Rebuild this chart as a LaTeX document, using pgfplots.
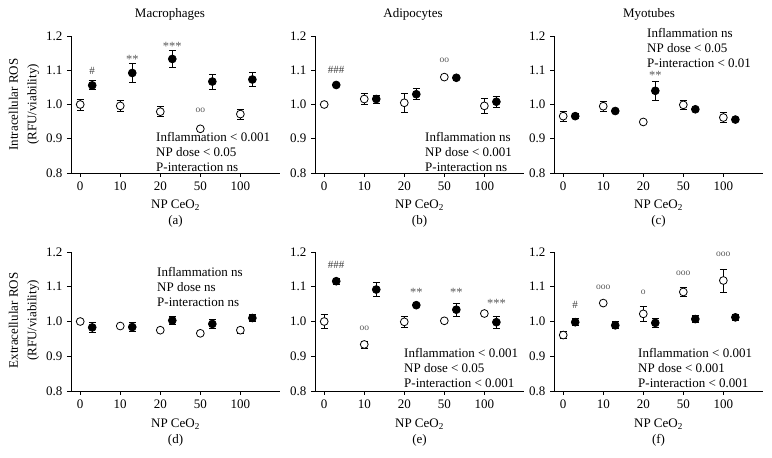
\documentclass[border=0pt]{standalone}
\usepackage{fontspec}
\setmainfont{Liberation Serif}
\usepackage{pgfplots}
\pgfplotsset{compat=1.18}
\definecolor{anno}{gray}{0.35}
\newcommand{\stat}[5]{%
  \node[anchor=base west,inner sep=0pt] at (#1pt,#2pt) {#3};
  \node[anchor=base west,inner sep=0pt] at (#1pt,#2pt-15pt) {#4};
  \node[anchor=base west,inner sep=0pt] at (#1pt,#2pt-30pt) {#5};}
\tikzset{
 ast/.style={anchor=base, yshift=-6.5pt, inner sep=0pt, text=anno, font=\fontsize{12.5}{12}\selectfont},
 hsh/.style={anchor=base, yshift=-3.6pt, inner sep=0pt, text=anno!70!black, font=\fontsize{11}{11}\selectfont},
 ooo/.style={anchor=base, yshift=-2.2pt, inner sep=0pt, text=anno, font=\fontsize{9.5}{9}\selectfont},
}
\begin{document}
\fontsize{13}{15}\selectfont
\begin{tikzpicture}
\useasboundingbox (0pt,0pt) rectangle (772pt,458pt);
\pgfplotsset{
 panel/.style={
  scale only axis, width=209pt, height=#1,
  xmin=-0.23, xmax=4.99, ymin=0.8, ymax=1.2,
  axis x line=bottom, axis y line=left,
  axis line style={-, black, line width=0.9pt},
  xtick={0,1,2,3,4}, xticklabels={0,10,20,50,100},
  ytick={0.8,0.9,1.0,1.1,1.2}, yticklabels={0.8,0.9,1.0,1.1,1.2},
  tick align=outside, major tick length=4pt,
  tick style={black, line width=0.9pt},
  every tick label/.append style={font=\fontsize{13}{15}\selectfont},
  clip=false, anchor=south west,
 },
 opn/.style={only marks, mark=*, mark size=3.9pt,
  mark options={fill=white, draw=black, line width=0.8pt},
  error bars/.cd, y dir=both, y explicit,
  error bar style={black, line width=0.8pt},
  error mark options={rotate=90, mark size=3.5pt, black, line width=0.8pt}},
 fil/.style={only marks, mark=*, mark size=3.9pt,
  mark options={fill=black, draw=black, line width=0.8pt},
  error bars/.cd, y dir=both, y explicit,
  error bar style={black, line width=0.8pt},
  error mark options={rotate=90, mark size=3.5pt, black, line width=0.8pt}},
}
% ---------- (a) Macrophages intracellular
\begin{axis}[panel=137pt, at={(71pt,285pt)}]
\addplot+[opn] coordinates {(0,1.000)+-(0,0.016) (1,0.996)+-(0,0.015) (2,0.979)+-(0,0.015) (3,0.929)+-(0,0.004) (4,0.972)+-(0,0.015)};
\addplot+[fil] coordinates {(0.3,1.056)+-(0,0.013) (1.3,1.092)+-(0,0.028) (2.3,1.133)+-(0,0.025) (3.3,1.067)+-(0,0.022) (4.3,1.073)+-(0,0.020)};
\node[hsh] at (axis cs:0.3,1.097) {\#};
\node[ast] at (axis cs:1.3,1.140) {**};
\node[ast] at (axis cs:2.3,1.176) {***};
\node[ooo] at (axis cs:3,0.982) {oo};
\end{axis}
% ---------- (b) Adipocytes intracellular
\begin{axis}[panel=137pt, at={(315pt,285pt)}]
\addplot+[opn] coordinates {(0,1.000)+-(0,0.003) (1,1.016)+-(0,0.016) (2,1.005)+-(0,0.027) (3,1.080)+-(0,0.003) (4,0.996)+-(0,0.022)};
\addplot+[fil] coordinates {(0.3,1.057)+-(0,0.004) (1.3,1.016)+-(0,0.012) (2.3,1.030)+-(0,0.016) (3.3,1.078)+-(0,0.004) (4.3,1.008)+-(0,0.016)};
\node[hsh] at (axis cs:0.3,1.100) {\#\#\#};
\node[ooo] at (axis cs:3,1.129) {oo};
\end{axis}
% ---------- (c) Myotubes intracellular
\begin{axis}[panel=137pt, at={(554pt,285pt)}]
\addplot+[opn] coordinates {(0,0.966)+-(0,0.015) (1,0.995)+-(0,0.014) (2,0.949)+-(0,0.003) (3,0.999)+-(0,0.012) (4,0.962)+-(0,0.015)};
\addplot+[fil] coordinates {(0.3,0.966)+-(0,0.008) (1.3,0.981)+-(0,0.004) (2.3,1.040)+-(0,0.028) (3.3,0.986)+-(0,0.004) (4.3,0.956)+-(0,0.004)};
\node[ast] at (axis cs:2.3,1.093) {**};
\end{axis}
% ---------- (d) Macrophages extracellular
\begin{axis}[panel=139pt, at={(71pt,67pt)}]
\addplot+[opn] coordinates {(0,1.000)+-(0,0.003) (1,0.987)+-(0,0.003) (2,0.975)+-(0,0.003) (3,0.966)+-(0,0.003) (4,0.975)+-(0,0.008)};
\addplot+[fil] coordinates {(0.3,0.983)+-(0,0.015) (1.3,0.984)+-(0,0.012) (2.3,1.003)+-(0,0.012) (3.3,0.993)+-(0,0.012) (4.3,1.010)+-(0,0.010)};
\end{axis}
% ---------- (e) Adipocytes extracellular
\begin{axis}[panel=139pt, at={(315pt,67pt)}]
\addplot+[opn] coordinates {(0,1.000)+-(0,0.019) (1,0.934)+-(0,0.010) (2,0.999)+-(0,0.015) (3,1.002)+-(0,0.003) (4,1.023)+-(0,0.003)};
\addplot+[fil] coordinates {(0.3,1.116)+-(0,0.008) (1.3,1.092)+-(0,0.021) (2.3,1.047)+-(0,0.004) (3.3,1.034)+-(0,0.018) (4.3,0.998)+-(0,0.017)};
\node[hsh] at (axis cs:0.3,1.164) {\#\#\#};
\node[ooo] at (axis cs:1,0.979) {oo};
\node[ast] at (axis cs:2.3,1.092) {**};
\node[ast] at (axis cs:3.3,1.092) {**};
\node[ast] at (axis cs:4.3,1.060) {***};
\end{axis}
% ---------- (f) Myotubes extracellular
\begin{axis}[panel=139pt, at={(554pt,67pt)}]
\addplot+[opn] coordinates {(0,0.961)+-(0,0.010) (1,1.053)+-(0,0.003) (2,1.022)+-(0,0.022) (3,1.085)+-(0,0.012) (4,1.118)+-(0,0.033)};
\addplot+[fil] coordinates {(0.3,0.998)+-(0,0.010) (1.3,0.989)+-(0,0.010) (2.3,0.996)+-(0,0.013) (3.3,1.007)+-(0,0.011) (4.3,1.012)+-(0,0.009)};
\node[hsh] at (axis cs:0.3,1.047) {\#};
\node[ooo] at (axis cs:1,1.098) {ooo};
\node[ooo] at (axis cs:2,1.083) {o};
\node[ooo] at (axis cs:3,1.140) {ooo};
\node[ooo] at (axis cs:4,1.192) {ooo};
\end{axis}
% ---------- statistics text
\stat{156}{316}{Inflammation < 0.001}{NP dose < 0.05}{P-interaction ns}
\stat{425}{316}{Inflammation ns}{NP dose < 0.001}{P-interaction ns}
\stat{647}{420}{Inflammation ns}{NP dose < 0.05}{P-interaction < 0.01}
\stat{157}{181}{Inflammation ns}{NP dose ns}{P-interaction ns}
\stat{404}{100}{Inflammation < 0.001}{NP dose < 0.05}{P-interaction < 0.001}
\stat{638}{100}{Inflammation < 0.001}{NP dose < 0.001}{P-interaction < 0.001}
% ---------- titles
\node at (170pt,444pt) {Macrophages};
\node at (413pt,444pt) {Adipocytes};
\node at (649pt,444pt) {Myotubes};
% ---------- y labels
\node[rotate=90, align=center, font=\fontsize{13}{18.5}\selectfont] at (24pt,353.5pt) {Intracellular ROS\\(RFU/viability)};
\node[rotate=90, align=center, font=\fontsize{13}{18.5}\selectfont] at (24pt,137.5pt) {Extracellular ROS\\(RFU/viability)};
% ---------- x labels and panel letters
\foreach \cx/\lt in {175.5/a, 419.5/b, 658.5/c} {
  \node[anchor=base, inner sep=0pt] at (\cx pt,249pt) {NP CeO\textsubscript{2}};
  \node[anchor=base, inner sep=0pt] at (\cx pt,233pt) {(\lt)};
}
\foreach \cx/\lt in {175.5/d, 419.5/e, 658.5/f} {
  \node[anchor=base, inner sep=0pt] at (\cx pt,30pt) {NP CeO\textsubscript{2}};
  \node[anchor=base, inner sep=0pt] at (\cx pt,14pt) {(\lt)};
}
\end{tikzpicture}
\end{document}
